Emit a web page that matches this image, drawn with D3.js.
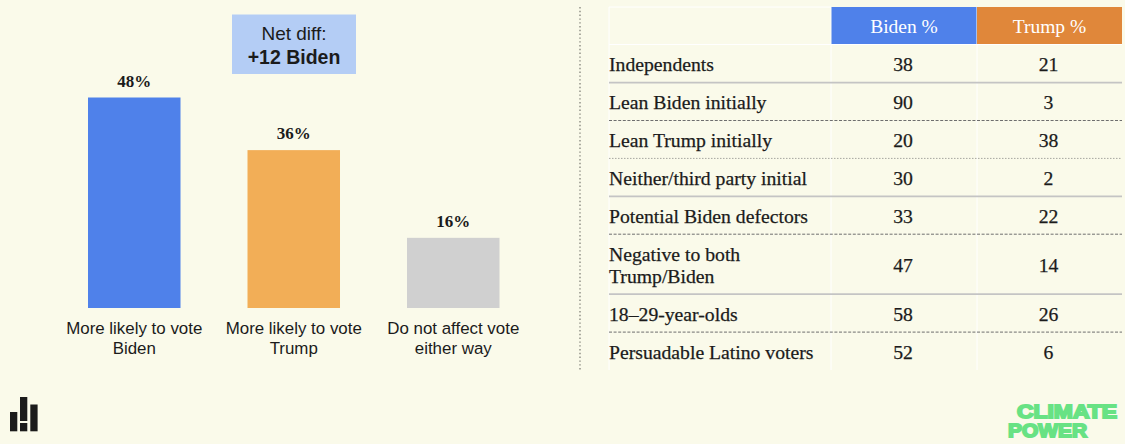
<!DOCTYPE html>
<html>
<head>
<meta charset="utf-8">
<script src="https://cdn.jsdelivr.net/npm/d3@7/dist/d3.min.js"></script>
<style>
  html, body { margin: 0; padding: 0; background: #fafaea; }
  svg { display: block; }
  .serif { font-family: "Liberation Serif", serif; fill: #1b1b1b; }
  .sans { font-family: "Liberation Sans", Arial, sans-serif; fill: #1b1b1b; }
  .body { stroke: #1b1b1b; stroke-width: 0.25; }
</style>
</head>
<body>
<svg id="chart" width="1125" height="444"></svg>
<script>
// Vote impact bars
const impactCategories = ["More likely to vote Biden", "More likely to vote Trump", "Do not affect vote either way"];
const impactLabelLines = [["More likely to vote", "Biden"], ["More likely to vote", "Trump"], ["Do not affect vote", "either way"]];
const impactValues = [48, 36, 16];
const impactColors = ["#4f81ea", "#f2ae57", "#d0d0d0"];

// Subgroup table
const tableColumns = ["Biden %", "Trump %"];
const groupLines = [
  ["Independents"], ["Lean Biden initially"], ["Lean Trump initially"],
  ["Neither/third party initial"], ["Potential Biden defectors"],
  ["Negative to both", "Trump/Biden"], ["18\u201329-year-olds"], ["Persuadable Latino voters"]
];
const bidenPct = [38, 90, 20, 30, 33, 47, 58, 52];
const trumpPct = [21, 3, 38, 2, 22, 14, 26, 6];
const ruleStyles = ["solid", "dashed", "dotted", "solid", "dashed", "solid", "dashed"];

const svg = d3.select("#chart");

// ---- Bar panel ----
const x = d3.scaleBand().domain(impactCategories).range([88, 499.5]).paddingInner(0.42).paddingOuter(0);
const y = d3.scaleLinear().domain([0, 48]).range([308, 97.5]);

svg.append("g").selectAll("rect").data(impactCategories).join("rect")
  .attr("x", d => x(d))
  .attr("width", x.bandwidth())
  .attr("y", (d, i) => y(impactValues[i]))
  .attr("height", (d, i) => y(0) - y(impactValues[i]))
  .attr("fill", (d, i) => impactColors[i]);

svg.append("g").selectAll("text").data(impactCategories).join("text")
  .attr("class", "serif")
  .attr("x", d => x(d) + x.bandwidth() / 2)
  .attr("y", (d, i) => y(impactValues[i]) - 11)
  .attr("text-anchor", "middle")
  .attr("font-size", 17)
  .attr("font-weight", 700)
  .text((d, i) => impactValues[i] + "%");

const xAxis = svg.append("g")
  .attr("transform", `translate(0,${y(0)})`)
  .call(d3.axisBottom(x).tickSize(0).tickFormat(""));
xAxis.select(".domain").remove();
xAxis.selectAll(".tick text").remove();
xAxis.selectAll(".tick").each(function (d, i) {
  const label = d3.select(this).append("text")
    .attr("class", "sans")
    .attr("text-anchor", "middle")
    .attr("font-size", 16.9);
  impactLabelLines[i].forEach((line, k) => {
    label.append("tspan").attr("x", 0).attr("y", 26 + k * 19.5).text(line);
  });
});

// Net difference callout
const callout = svg.append("g");
callout.append("rect").attr("x", 232).attr("y", 14.5).attr("width", 124).attr("height", 59.5).attr("fill", "#b4cdf5");
callout.append("text").attr("class", "sans").attr("x", 294).attr("y", 39.5)
  .attr("text-anchor", "middle").attr("font-size", 19).text("Net diff:");
callout.append("text").attr("class", "sans").attr("x", 294).attr("y", 63.5)
  .attr("text-anchor", "middle").attr("font-size", 19.5).attr("font-weight", 700)
  .text("+" + (impactValues[0] - impactValues[1]) + " Biden");

// Panel divider
svg.append("line").attr("x1", 580).attr("x2", 580).attr("y1", 7).attr("y2", 370)
  .attr("stroke", "#77776f").attr("stroke-width", 1.2).attr("stroke-dasharray", "1.4 2.4");

// ---- Table panel ----
const singleRow = 37.9, doubleRow = 60;
const rowHeights = groupLines.map(g => g.length > 1 ? doubleRow : singleRow);
const rowTop = [44.7];
rowHeights.forEach((h, i) => rowTop.push(rowTop[i] + h));

const colX = d3.scaleOrdinal().domain(tableColumns).range([831.5, 977]);
const colW = 145;
const table = svg.append("g");

// Faint cell grid
table.selectAll("line.v").data([609, 831, 977]).join("line")
  .attr("class", "v").attr("x1", d => d).attr("x2", d => d).attr("y1", 7).attr("y2", 370)
  .attr("stroke", "#ffffff").attr("stroke-width", 1);
table.append("line").attr("x1", 609).attr("x2", 831).attr("y1", 7).attr("y2", 7)
  .attr("stroke", "#ffffff").attr("stroke-width", 1);
table.append("line").attr("x1", 609).attr("x2", 1122).attr("y1", 44.5).attr("y2", 44.5)
  .attr("stroke", "#ffffff").attr("stroke-width", 1);

const headerFills = ["#4f81ea", "#e0873a"];
table.selectAll("rect.head").data(tableColumns).join("rect")
  .attr("class", "head")
  .attr("x", d => colX(d)).attr("y", 7).attr("width", colW).attr("height", 37)
  .attr("fill", (d, i) => headerFills[i]);
table.selectAll("text.head").data(tableColumns).join("text")
  .attr("class", "head")
  .attr("x", d => colX(d) + colW / 2).attr("y", 33)
  .attr("text-anchor", "middle")
  .attr("font-family", '"Liberation Serif", serif')
  .attr("font-size", 19.5).attr("fill", "#ffffff")
  .text(d => d);

// Row rules
const ruleProps = {
  solid: { color: "#c4c4c4", width: 1.8, dash: null },
  dashed: { color: "#6e6e6e", width: 1, dash: "3 1.6" },
  dotted: { color: "#a6a6a0", width: 1, dash: "1.5 1.5" }
};
table.selectAll("line.rule").data(ruleStyles).join("line")
  .attr("class", "rule")
  .attr("x1", 609).attr("x2", 1122)
  .attr("y1", (d, i) => rowTop[i + 1]).attr("y2", (d, i) => rowTop[i + 1])
  .attr("stroke", d => ruleProps[d].color)
  .attr("stroke-width", d => ruleProps[d].width)
  .attr("stroke-dasharray", d => ruleProps[d].dash);

// Row text
const rows = table.selectAll("g.row").data(groupLines).join("g")
  .attr("class", "row")
  .attr("transform", (d, i) => `translate(0,${rowTop[i] + rowHeights[i] / 2})`);
rows.each(function (lines, i) {
  const row = d3.select(this);
  lines.forEach((line, k) => {
    row.append("text").attr("class", "serif body")
      .attr("x", 609).attr("y", 7.5 + (k - (lines.length - 1) / 2) * 21.7)
      .attr("font-size", 19.7).text(line);
  });
  [bidenPct[i], trumpPct[i]].forEach((v, c) => {
    row.append("text").attr("class", "serif body")
      .attr("x", colX(tableColumns[c]) + colW / 2 - 1).attr("y", 7.5)
      .attr("text-anchor", "middle").attr("font-size", 19.7).text(v);
  });
});

// ---- Footer marks ----
const brand = svg.append("g").attr("fill", "#1b1b1b");
[[10, 412, 7.3, 19.3], [20, 397, 7.3, 24], [20, 423, 7.3, 8.3], [30.3, 404.5, 7.3, 26.8]].forEach(r => {
  brand.append("rect").attr("x", r[0]).attr("y", r[1]).attr("width", r[2]).attr("height", r[3]);
});

const wordmark = svg.append("g")
  .attr("font-family", '"Liberation Sans", Arial, sans-serif')
  .attr("font-weight", 700).attr("font-size", 16.5)
  .attr("fill", "#68e284").attr("stroke", "#68e284").attr("stroke-width", 1.6);
wordmark.append("text").attr("x", 0).attr("y", 0)
  .attr("transform", "translate(1017,418) scale(1,1.16)")
  .attr("textLength", 100).attr("lengthAdjust", "spacingAndGlyphs").text("CLIMATE");
wordmark.append("text").attr("x", 0).attr("y", 0)
  .attr("transform", "translate(1008,437) scale(1,1.16)")
  .attr("textLength", 79).attr("lengthAdjust", "spacingAndGlyphs").text("POWER");
</script>
</body>
</html>
